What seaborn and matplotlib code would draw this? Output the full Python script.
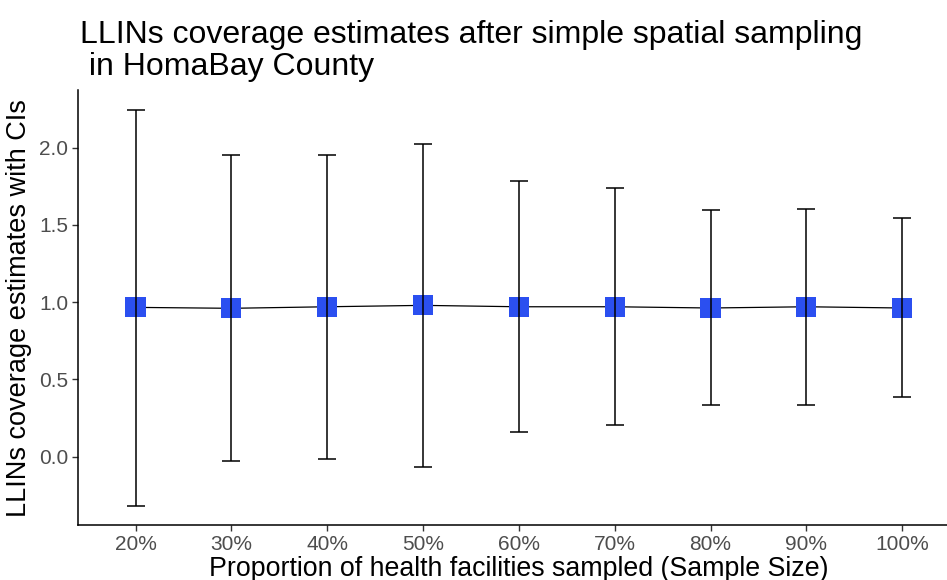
import matplotlib
matplotlib.use("Agg")
import matplotlib.pyplot as plt
import seaborn as sns
import pandas as pd

# Sampling proportions and coverage estimates with confidence limits
proportions = ["20%", "30%", "40%", "50%", "60%", "70%", "80%", "90%", "100%"]
estimate = [0.966, 0.960, 0.970, 0.979, 0.970, 0.970, 0.962, 0.970, 0.962]
ci_lower = [-0.317, -0.028, -0.013, -0.065, 0.158, 0.207, 0.334, 0.336, 0.388]
ci_upper = [2.245, 1.951, 1.953, 2.023, 1.783, 1.738, 1.594, 1.600, 1.544]

df = pd.DataFrame({
    "pos": range(len(proportions)),
    "prop": proportions,
    "est": estimate,
    "lo": ci_lower,
    "hi": ci_upper,
})

sns.set_theme(style="white")
plt.rcParams["font.family"] = ["Liberation Sans", "DejaVu Sans"]

fig = plt.figure(figsize=(9.47, 5.8), dpi=100)
ax = fig.add_axes([0.0824, 0.094, 0.931, 0.751])

# connecting line
sns.lineplot(data=df, x="pos", y="est", color="black", linewidth=0.9,
             ax=ax, zorder=2)
# point estimates
sns.scatterplot(data=df, x="pos", y="est", marker="s", s=210,
                color="#2B4FF0", edgecolor="none", ax=ax, zorder=3)
# confidence intervals
ax.errorbar(df["pos"], df["est"],
            yerr=[df["est"] - df["lo"], df["hi"] - df["est"]],
            fmt="none", ecolor="black", elinewidth=1.1, capsize=6.8,
            capthick=1.1, zorder=4)

ax.set_xlim(-0.6, 8.6)
rng = max(ci_upper) - min(ci_lower)
ax.set_ylim(min(ci_lower) - 0.05 * rng, max(ci_upper) + 0.05 * rng)
ax.set_xticks(df["pos"])
ax.set_xticklabels(proportions)
ax.set_yticks([0.0, 0.5, 1.0, 1.5, 2.0])
ax.set_yticklabels(["0.0", "0.5", "1.0", "1.5", "2.0"])

for side in ["top", "right"]:
    ax.spines[side].set_visible(False)
for side in ["left", "bottom"]:
    ax.spines[side].set_color("black")
    ax.spines[side].set_linewidth(1.1)

ax.tick_params(axis="both", which="major", direction="out", length=4,
               width=1, color="#333333", labelsize=15,
               labelcolor="#4D4D4D", bottom=True, left=True, pad=3)

ax.set_xlabel("Proportion of health facilities sampled (Sample Size)",
              fontsize=19.3, color="black", labelpad=1)
ax.set_ylabel("LLINs coverage estimates with CIs", fontsize=19.5,
              color="black", labelpad=5)

fig.text(0.0845, 0.966,
         "LLINs coverage estimates after simple spatial sampling\n in HomaBay County",
         fontsize=23, color="black", ha="left", va="top", linespacing=1.12)

fig.savefig("out.png", dpi=100, facecolor="white")
